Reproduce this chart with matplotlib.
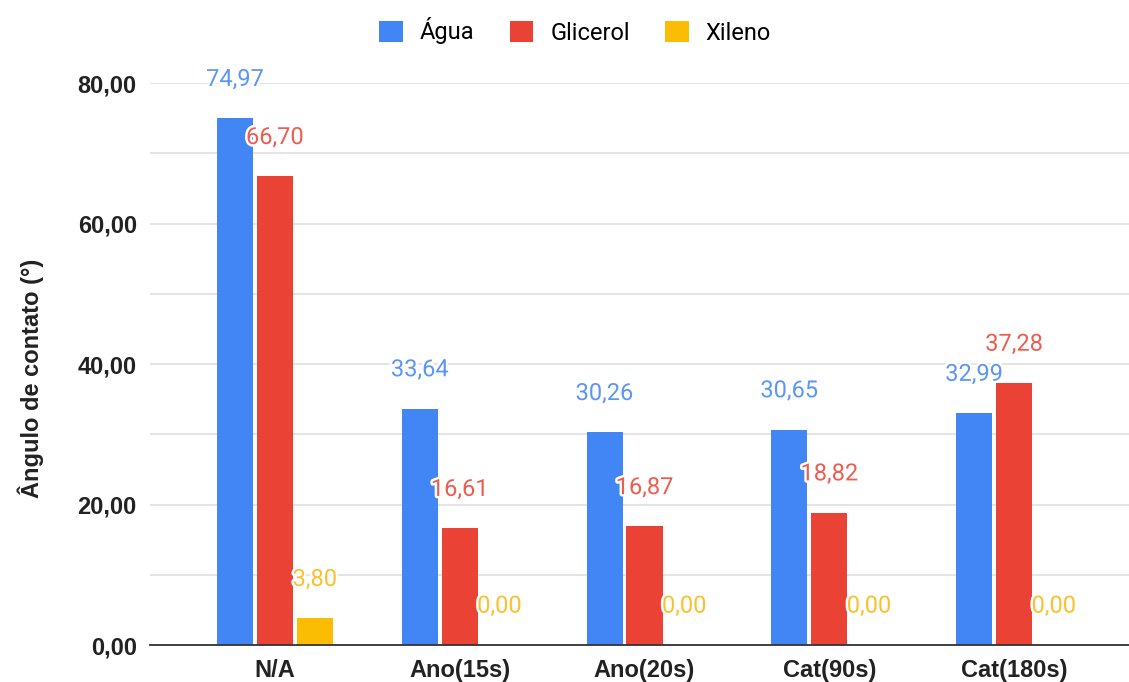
import matplotlib
matplotlib.use("Agg")
import matplotlib.pyplot as plt
import matplotlib.patheffects as pe
from matplotlib.patches import Patch
import numpy as np

categories = ["N/A", "Ano(15s)", "Ano(20s)", "Cat(90s)", "Cat(180s)"]
series_names = ["Água", "Glicerol", "Xileno"]
agua = [74.97, 33.64, 30.26, 30.65, 32.99]
glicerol = [66.70, 16.61, 16.87, 18.82, 37.28]
xileno = [3.80, 0.00, 0.00, 0.00, 0.00]
ytick_values = [0, 20, 40, 60, 80]
ytick_labels = ["0,00", "20,00", "40,00", "60,00", "80,00"]
ylabel = "Ângulo de contato (°)"

colors = ["#4285F4", "#EA4335", "#FBBC04"]
label_colors = ["#5B95F5", "#EE5B4F", "#FBC02D"]
axis_font = dict(family="Liberation Sans", fontweight="bold", fontsize=17, color="#222222")

fig = plt.figure(figsize=(11.29, 6.82), dpi=100)
ax = fig.add_axes([150 / 1129, 1 - 645 / 682, 989 / 1129, (645 - 83) / 682])

x = np.arange(len(categories))
pitch = 0.216
width = 0.195
for i, (vals, col, lcol) in enumerate(zip([agua, glicerol, xileno], colors, label_colors)):
    pos = x + (i - 1) * pitch
    ax.bar(pos, vals, width=width, color=col, zorder=3)
    for px, v in zip(pos, vals):
        t = ax.annotate(f"{v:.2f}".replace(".", ","), (px, v), xytext=(0, 28),
                        textcoords="offset points", ha="center", va="center",
                        color=lcol, fontsize=17, family="Roboto",
                        annotation_clip=False, zorder=5)
        t.set_path_effects([pe.withStroke(linewidth=3.5, foreground="white")])

ax.set_xlim(-0.676, 4.676)
ax.set_ylim(0, 80)
ax.set_yticks(ytick_values)
ax.set_yticks([10, 30, 50, 70], minor=True)
ax.set_yticklabels(ytick_labels, **axis_font)
ax.set_xticks(x)
ax.set_xticklabels(categories, **axis_font)
ax.tick_params(axis="y", which="both", length=0, pad=9.5)
ax.tick_params(axis="x", length=0, pad=10)
ax.grid(axis="y", which="both", color="#DDDDDD", linewidth=1.1, zorder=0)
for s in ["top", "right", "left"]:
    ax.spines[s].set_visible(False)
ax.spines["bottom"].set_color("#333333")
ax.spines["bottom"].set_linewidth(1.3)
ax.spines["bottom"].set_zorder(4)
ax.set_ylabel(ylabel, **axis_font)
ax.yaxis.set_label_coords((44 - 150) / 989, (645 - 378) / (645 - 83))

handles = [Patch(facecolor=c, edgecolor="none") for c in colors]
fig.legend(handles, series_names, loc="center", bbox_to_anchor=(575 / 1129, 1 - 31 / 682),
           ncol=3, frameon=False, prop={"family": "Roboto", "size": 17},
           handlelength=1.0, handleheight=0.95, columnspacing=1.5, handletextpad=0.72,
           borderpad=0, borderaxespad=0)

fig.savefig("out.png", dpi=100)
